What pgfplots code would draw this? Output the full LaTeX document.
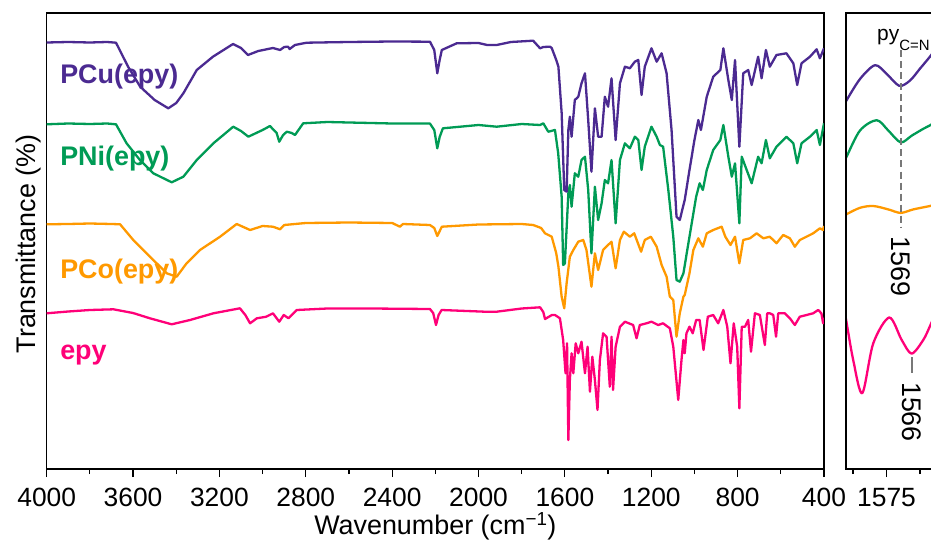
\documentclass[border=0pt]{standalone}
\usepackage{fontspec}
\setmainfont{Liberation Sans}
\usepackage{pgfplots}
\pgfplotsset{compat=1.18}
\definecolor{cCu}{RGB}{75,42,145}
\definecolor{cNi}{RGB}{0,155,85}
\definecolor{cCo}{RGB}{255,153,0}
\definecolor{cepy}{RGB}{255,0,120}
\definecolor{dashgray}{RGB}{120,120,120}
\begin{document}
\begin{tikzpicture}
\pgfplotsset{
  common/.style={scale only axis, height=456bp, ymin=13, ymax=469, y dir=reverse,
    ytick=\empty, tick align=outside, xtick pos=left,
    major tick length=8bp, minor tick length=5bp,
    tick style={black, line width=1.2bp},
    axis line style={line width=1.2bp},
    clip mode=individual,
    xticklabel style={font=\fontsize{26.5}{30}\selectfont, anchor=north, inner sep=0pt, yshift=-11bp},
    /pgf/number format/1000 sep={}, /pgf/number format/assume math mode=true,
    every axis plot/.append style={line width=2.3bp, line join=round}},
}
\begin{axis}[common, name=main, width=777.3bp, xmin=400, xmax=4000, x dir=reverse,
  xtick={400,800,...,4000}, minor xtick={600,1000,...,3800}]
% epy
\addplot[cepy] coordinates {(4000,313.3) (3900,311.5) (3800,310) (3691,309.3) (3600,313) (3522,318.3) (3421,324.3) (3336,320) (3228,313.3) (3105,308.3) (3080,315) (3058,323.3) (3027,318.3) (2983,316.7) (2952,313.3) (2923,321.7) (2902,315) (2880,318.3) (2842,310) (2700,308.5) (2500,308.5) (2225,309) (2210,313) (2197,325) (2185,315) (2171,310) (1971,311.7) (1916,311.7) (1800,308.5) (1715,307.3) (1700,312) (1692,319) (1660,315) (1646,315) (1623,318.3) (1608,340) (1597,373.3) (1590,343.3) (1584,440) (1577,380) (1569,353.3) (1561,373.3) (1550,343.3) (1538,353.3) (1523,341.7) (1507,373.3) (1495,346.7) (1484,391.7) (1473,356.7) (1461,380) (1449,410) (1438,360) (1423,333.3) (1407,336.7) (1392,386.7) (1384,336.7) (1377,390) (1365,346.7) (1345,326.7) (1322,321.7) (1284,325) (1268,338.3) (1253,325) (1222,323.3) (1199,321.7) (1168,325) (1145,323.3) (1114,328.3) (1098,346.7) (1075,400) (1060,360) (1051,340) (1045,353.3) (1037,333.3) (1023,326.7) (1008,333.3) (992,320) (976,320) (958,350) (938,316.7) (913,315) (890,323.3) (866,310) (848,326.7) (833,363.3) (818,323.3) (802,346.7) (792,408.3) (781,326.7) (766,326.7) (751,320) (738,351.7) (720,313.3) (697,315) (674,345) (663,313.3) (651,313.3) (635,315) (622,336.7) (612,313.3) (581,313.3) (558,318.3) (535,325) (512,316.7) (481,315) (450,313.3) (427,310) (412,313.3) (404,323.3) (400,318)};
% PCo
\addplot[cCo] coordinates {(4000,224.3) (3900,224) (3800,223.5) (3700,224) (3660,224.3) (3599,240) (3506,260) (3444,273.3) (3398,276.7) (3352,263.3) (3290,250) (3197,236.7) (3120,224) (3058,230) (3000,226) (2952,226.7) (2919,229.3) (2900,225) (2800,223) (2600,222.5) (2400,223) (2364,226.7) (2350,224) (2225,225) (2205,228) (2191,236) (2170,226.7) (2000,224.5) (1800,224) (1747,225) (1710,228) (1692,233.3) (1661,236.7) (1640,253.3) (1630,266.7) (1615,296.7) (1603,308.3) (1592,283.3) (1577,256.7) (1561,250) (1538,241.7) (1515,240) (1500,250) (1477,286.7) (1461,253.3) (1446,270) (1423,250) (1400,245) (1384,241.7) (1365,268.3) (1345,240) (1327,231.7) (1299,236.7) (1279,233.3) (1247,251.7) (1230,240) (1202,236.7) (1175,246.7) (1152,265) (1129,276.7) (1114,296.7) (1098,300) (1083,336.7) (1068,313.3) (1051,296.7) (1045,295) (1023,273.3) (1005,250) (982,238.3) (961,246.7) (943,233.3) (913,230) (874,226.7) (857,236.7) (833,245) (812,236.7) (792,263.3) (774,240) (743,238.3) (712,233.3) (681,238.3) (651,236.7) (620,243.3) (589,235) (558,238.3) (535,246.7) (512,240) (481,236.7) (450,233.3) (419,228.3) (404,230) (400,226)};
% PNi
\addplot[cNi] coordinates {(4000,124.3) (3900,123.5) (3800,124) (3720,123.5) (3679,124.3) (3630,143.3) (3568,160) (3506,173.3) (3421,182.3) (3367,176.7) (3305,160) (3228,143.3) (3136,126.7) (3100,131) (3066,136.7) (3000,130) (2966,126) (2935,133) (2923,141.7) (2905,135) (2888,131.7) (2865,133) (2850,135) (2812,123.3) (2700,122) (2500,123) (2400,123.5) (2225,123.5) (2205,130) (2191,148.3) (2180,137) (2165,128.3) (2000,125) (1916,126.7) (1800,124) (1715,125) (1700,123.3) (1677,131.7) (1646,130) (1631,153.3) (1615,196.7) (1608,265) (1600,263.3) (1584,193.3) (1577,185) (1569,206.7) (1554,173.3) (1538,176.7) (1523,160) (1507,156.7) (1492,190) (1477,253.3) (1461,186.7) (1446,220) (1430,203.3) (1415,180) (1400,183.3) (1384,160) (1365,223.3) (1345,160) (1322,143.3) (1299,148.3) (1276,136.7) (1260,140) (1245,170) (1230,146.7) (1199,126.7) (1175,136.7) (1160,145) (1145,146.7) (1121,190) (1098,236.7) (1083,280) (1068,281.7) (1051,273.3) (1023,236.7) (992,196.7) (976,183.3) (961,190) (943,170) (913,150) (880,140) (866,125) (843,156.7) (827,176.7) (812,163.3) (792,223.3) (781,156.7) (758,170) (735,183.3) (705,156.7) (689,163.3) (669,140) (651,158.3) (620,146.7) (574,136.7) (542,143.3) (524,163.3) (504,143.3) (465,136.7) (434,130) (419,145) (400,123.3)};
% PCu
\addplot[cCu] coordinates {(4000,42.5) (3900,42) (3800,42.5) (3720,42) (3679,42.7) (3623,66.7) (3567,86.7) (3500,100) (3437,108.3) (3400,103) (3367,93.3) (3305,70) (3230,56.7) (3137,44) (3100,48) (3068,55) (3020,51) (2952,48) (2919,50) (2900,47) (2882,46.7) (2875,49) (2850,45) (2796,42.7) (2600,42) (2400,41.5) (2225,41.7) (2205,50) (2191,73.3) (2180,60) (2170,50) (2101,43.3) (2000,43) (1960,45) (1916,45) (1850,42) (1747,40.7) (1715,48.3) (1700,47) (1669,46.7) (1661,48) (1640,60) (1630,66.7) (1615,113) (1603,190) (1592,191.7) (1584,130) (1577,116.7) (1569,136.7) (1554,100) (1538,96.7) (1523,83.3) (1507,73.3) (1492,120) (1477,171.7) (1461,108.3) (1446,136.7) (1430,136.7) (1415,96.7) (1400,106.7) (1384,78.3) (1365,140) (1345,83.3) (1322,66.7) (1299,68.3) (1276,61.7) (1260,60) (1245,95) (1230,66.7) (1199,48.3) (1175,61.7) (1152,53.3) (1129,73.3) (1106,130) (1083,216.7) (1068,220) (1045,200) (1023,170) (1000,140) (982,120) (970,130) (943,96.7) (913,76.7) (880,70) (866,48.3) (843,80) (827,100) (812,60) (792,146.7) (774,73.3) (751,70) (735,85) (705,56.7) (689,78.3) (669,50) (651,66.7) (620,55) (574,53.3) (542,63.3) (524,85) (504,63.3) (465,56.7) (434,49.3) (419,58.3) (400,48.3)};
\node[anchor=west, inner sep=0pt, text=cCu, font=\bfseries\fontsize{27}{30}\selectfont] at (axis cs:3938,76.5) {PCu(epy)};
\node[anchor=west, inner sep=0pt, text=cNi, font=\bfseries\fontsize{27}{30}\selectfont] at (axis cs:3938,158.7) {PNi(epy)};
\node[anchor=west, inner sep=0pt, text=cCo, font=\bfseries\fontsize{27}{30}\selectfont] at (axis cs:3938,272) {PCo(epy)};
\node[anchor=west, inner sep=0pt, text=cepy, font=\bfseries\fontsize{27}{30}\selectfont] at (axis cs:3938,355) {epy};
\end{axis}
\begin{axis}[common, name=side, at={(main.south east)}, anchor=south west, xshift=22bp,
  width=85bp, xmin=1568.36, xmax=1581.05, x dir=reverse,
  xtick={1585,1575,1565}, minor xtick={1580,1570}, axis line style={draw=none}]
\addplot[cCu, smooth] coordinates {(1581.6,108) (1581.05,101.2) (1578.96,79) (1576.72,65.2) (1574.98,73.9) (1573.10,85.8) (1571.50,80.6) (1570.01,68.7) (1568.52,56.7) (1568.0,52)};
\addplot[cNi, smooth] coordinates {(1581.6,165) (1581.05,157.9) (1578.96,130.5) (1576.47,120.2) (1574.74,130.5) (1572.89,142.4) (1571.25,135.7) (1569.51,128.8) (1568.52,125.4) (1568.0,123)};
\addplot[cCo, smooth] coordinates {(1581.6,217) (1581.05,214.5) (1578.96,207.8) (1576.98,206) (1574.74,209.4) (1572.89,212.9) (1571.01,209.4) (1568.52,206) (1568.0,205)};
\addplot[cepy, smooth] coordinates {(1581.6,300) (1581.05,319.3) (1579.96,360.5) (1578.62,393.2) (1576.98,343.3) (1574.59,317.5) (1572.74,339.9) (1571.25,353.6) (1569.51,339.9) (1568.52,326.2) (1568.0,318)};
\draw[black, line width=1.2bp] (axis description cs:1,1) -- (axis description cs:0,1) -- (axis description cs:0,0) -- (axis description cs:1,0);
\draw[dashgray, line width=2bp, dash pattern=on 7bp off 4bp] (axis cs:1572.89,50.5) -- (axis cs:1572.89,226.6);
\draw[dashgray, line width=2bp] (axis cs:1571.25,357) -- (axis cs:1571.25,373);
\node[rotate=-90, inner sep=0pt, font=\fontsize{27}{30}\selectfont] at (axis cs:1572.89,266.3) {1569};
\node[rotate=-90, inner sep=0pt, font=\fontsize{27}{30}\selectfont] at (axis cs:1571.25,412) {1566};
\node[anchor=base west, inner sep=0pt, font=\fontsize{21}{24}\selectfont] at (axis cs:1576.42,40.2) {py\raisebox{-10bp}{\fontsize{15}{16}\selectfont C=N}};
\end{axis}
\node[rotate=90, inner sep=0pt, font=\fontsize{27}{30}\selectfont] at ([xshift=-18bp, yshift=-3bp]main.west) {Transmittance (\%)};
\node[anchor=base, inner sep=0pt, font=\fontsize{27}{30}\selectfont] at ([yshift=-65bp]main.south) {Wavenumber (cm\textsuperscript{−1})};
\pgfresetboundingbox
\path[use as bounding box] ([xshift=-46.7bp, yshift=-71bp]main.south west) rectangle ([xshift=107bp, yshift=13bp]main.north east);
\end{tikzpicture}
\end{document}
